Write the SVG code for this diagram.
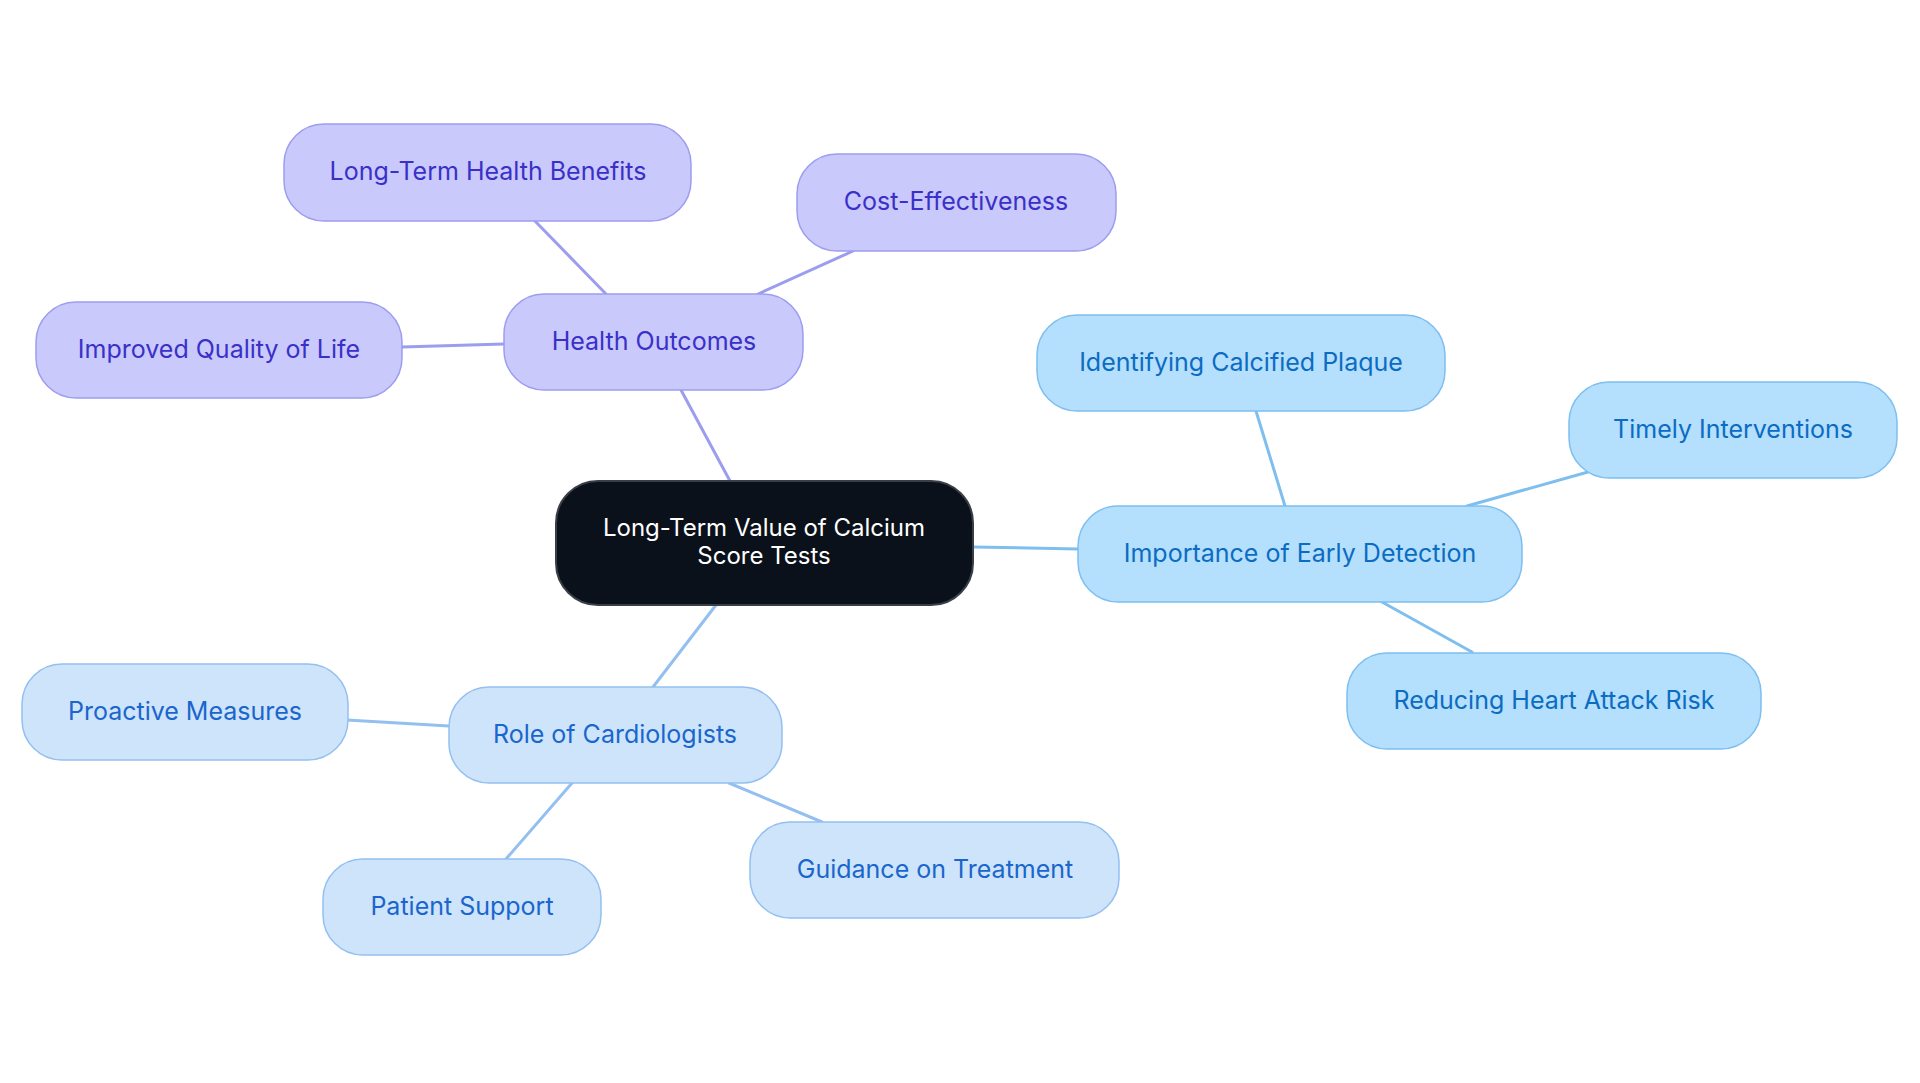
<svg xmlns="http://www.w3.org/2000/svg" width="1920" height="1083" viewBox="0 0 1920 1083">
<style>
text{font-family:Inter,"Noto Sans","Liberation Sans",sans-serif;font-size:25px;text-anchor:middle}
.p rect{fill:#c9c9fb;stroke:#9d9df0;stroke-width:1.5}
.p text{fill:#3a30c8}
.b rect{fill:#b4dffd;stroke:#7ebff0;stroke-width:1.5}
.b text{fill:#0b6cc2}
.g rect{fill:#cee4fb;stroke:#93c0f0;stroke-width:1.5}
.g text{fill:#1a66cc}
.c rect{fill:#0b111b;stroke:#3a3f47;stroke-width:2}
.c text{fill:#ffffff;font-size:24px}
.lp{stroke:#9d9df0}
.lb{stroke:#7ebff0}
.lg{stroke:#93c0f0}
#connectors line{stroke-width:3;stroke-linecap:round}
</style>
<rect width="1920" height="1083" fill="#ffffff"/>
<g id="connectors">
<line class="lp" x1="681" y1="390" x2="730" y2="481"/>
<line class="lp" x1="535" y1="221" x2="606" y2="294"/>
<line class="lp" x1="853" y1="251" x2="758" y2="294"/>
<line class="lp" x1="402" y1="347" x2="504" y2="344"/>
<line class="lb" x1="973" y1="547" x2="1078" y2="549"/>
<line class="lb" x1="1256" y1="411" x2="1285" y2="506"/>
<line class="lb" x1="1588" y1="472" x2="1467" y2="506"/>
<line class="lb" x1="1382" y1="602" x2="1472" y2="652"/>
<line class="lg" x1="716" y1="605" x2="653" y2="687"/>
<line class="lg" x1="347" y1="720" x2="449" y2="726"/>
<line class="lg" x1="572" y1="783" x2="506" y2="859"/>
<line class="lg" x1="729" y1="783" x2="822" y2="822"/>
</g>
<g id="center" class="c"><rect x="556" y="481" width="417" height="124" rx="42"/><text x="764" y="536">Long-Term Value of Calcium</text><text x="764" y="564">Score Tests</text></g>
<g id="health-outcomes" class="p"><rect x="504" y="294" width="299" height="96" rx="40"/><text x="654" y="350">Health Outcomes</text></g>
<g id="long-term-health-benefits" class="p"><rect x="284" y="124" width="407" height="97" rx="40"/><text x="488" y="180">Long-Term Health Benefits</text></g>
<g id="cost-effectiveness" class="p"><rect x="797" y="154" width="319" height="97" rx="40"/><text x="956" y="210">Cost-Effectiveness</text></g>
<g id="improved-quality" class="p"><rect x="36" y="302" width="366" height="96" rx="40"/><text x="219" y="358">Improved Quality of Life</text></g>
<g id="early-detection" class="b"><rect x="1078" y="506" width="444" height="96" rx="40"/><text x="1300" y="562">Importance of Early Detection</text></g>
<g id="calcified-plaque" class="b"><rect x="1037" y="315" width="408" height="96" rx="40"/><text x="1241" y="371">Identifying Calcified Plaque</text></g>
<g id="timely-interventions" class="b"><rect x="1569" y="382" width="328" height="96" rx="40"/><text x="1733" y="438">Timely Interventions</text></g>
<g id="heart-attack-risk" class="b"><rect x="1347" y="653" width="414" height="96" rx="40"/><text x="1554" y="709">Reducing Heart Attack Risk</text></g>
<g id="cardiologists" class="g"><rect x="449" y="687" width="333" height="96" rx="40"/><text x="615" y="743">Role of Cardiologists</text></g>
<g id="proactive-measures" class="g"><rect x="22" y="664" width="326" height="96" rx="40"/><text x="185" y="720">Proactive Measures</text></g>
<g id="patient-support" class="g"><rect x="323" y="859" width="278" height="96" rx="40"/><text x="462" y="915">Patient Support</text></g>
<g id="guidance-treatment" class="g"><rect x="750" y="822" width="369" height="96" rx="40"/><text x="935" y="878">Guidance on Treatment</text></g>
</svg>
